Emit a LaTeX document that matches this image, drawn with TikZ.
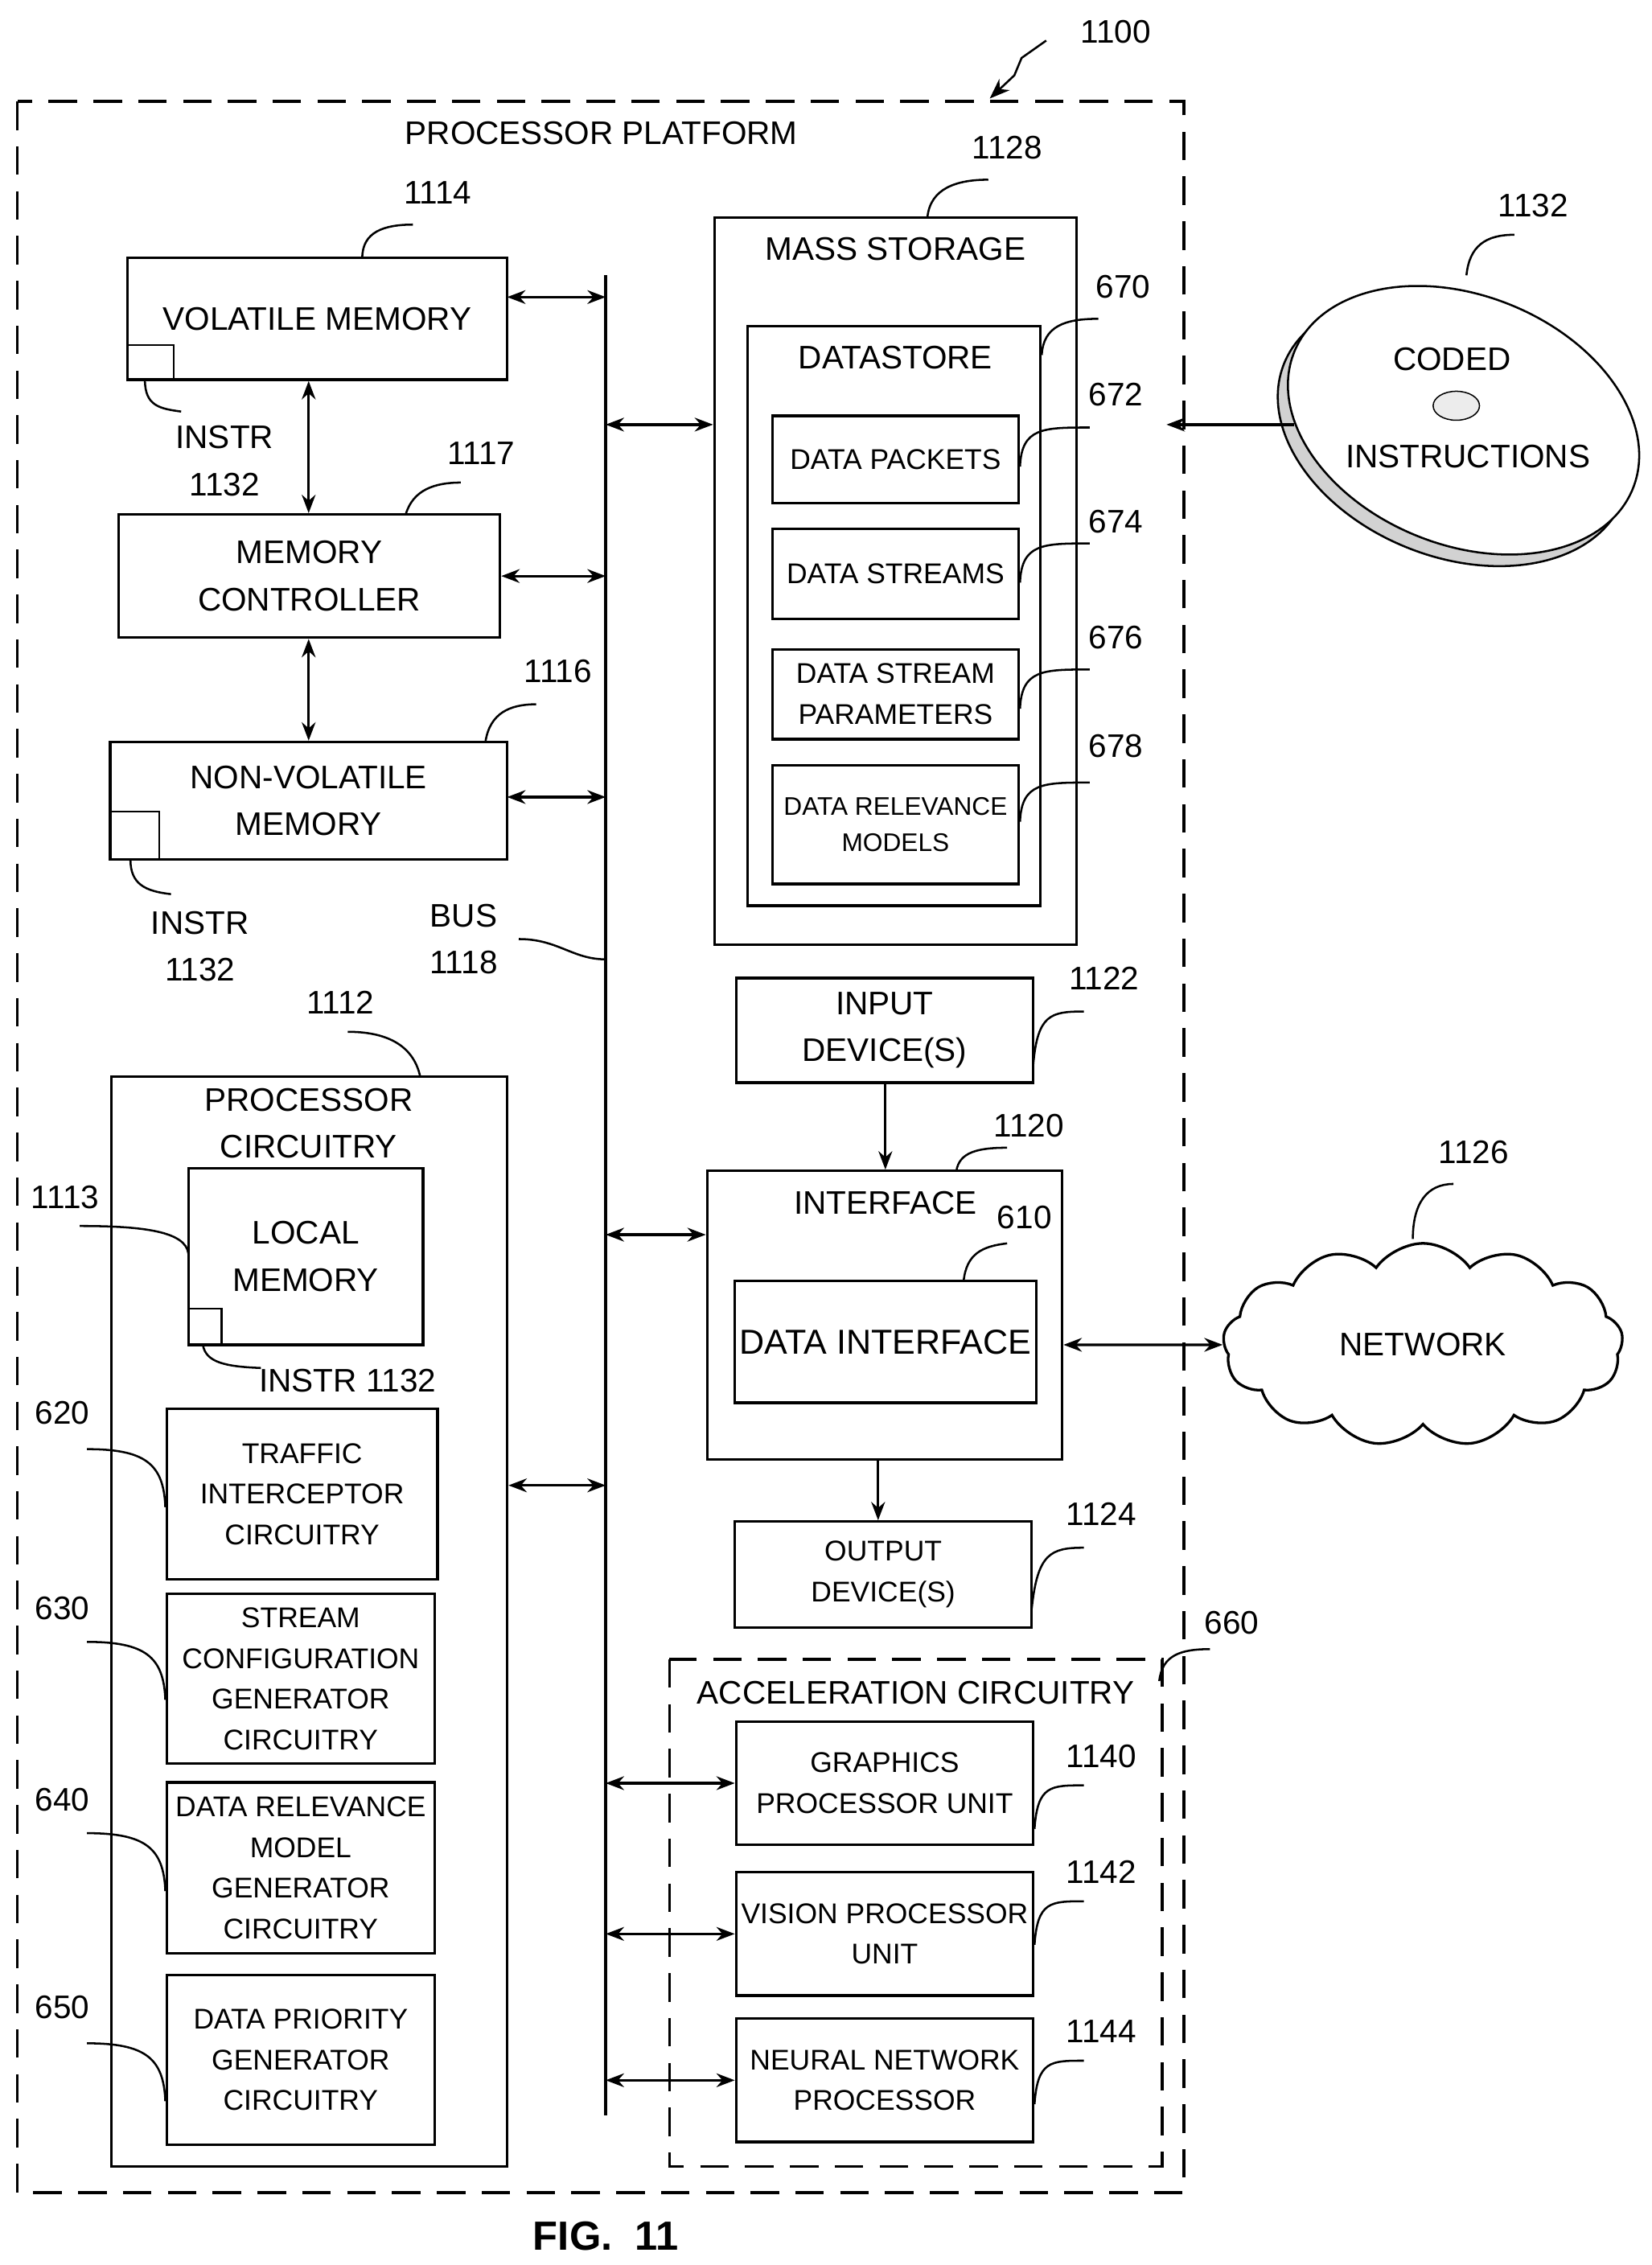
\documentclass[tikz,border=0pt]{standalone}
\usepackage{fontspec}
\setmainfont{Liberation Sans}
\usetikzlibrary{shapes.symbols,arrows.meta}
\newcommand\bx[7][]{\node[box,#1,minimum width={(#5-#3)*0.025cm},minimum height={(#6-#4)*0.025cm}] (#2) at ({(#3+#5)/2},{(#4+#6)/2}) {#7};}
\begin{document}
\begin{tikzpicture}[x=0.025cm,y=-0.025cm,
 box/.style={draw,line width=1.3pt,align=center,inner sep=0pt,font=\fontsize{14}{20}\selectfont},
 big/.style={font=\fontsize{16}{23}\selectfont},
 lab/.style={font=\fontsize{16}{23}\selectfont,align=center},
 ld/.style={line width=1pt},
 dar/.style={line width=1.3pt,{Stealth[length=9pt]}-{Stealth[length=9pt]}},
 ar/.style={line width=1.3pt,-{Stealth[length=9pt]}},
 dsh/.style={line width=1.3pt,dash pattern=on 14pt off 8pt}]
\useasboundingbox (0,0) rectangle (1140,1563);
% outer
\draw[dsh] (12,70) rectangle (817,1513);
\node[lab] (pp) at (415,92) {PROCESSOR PLATFORM};
\node[lab] (l1100) at (770,22) {1100};
\coordinate (a1) at (722,28); \coordinate (a2) at (683,68);
\draw[ld,-{Stealth[length=10pt]}] (a1) -- (705,40) -- (700,52) -- (a2);
% bus
\coordinate (bt) at (418,190); \coordinate (bb) at (418,1460);
\draw[line width=1.3pt] (bt) -- (bb);
\node[lab] (lbus) at (320,648) {BUS\\1118};
\draw[ld] (358,648) .. controls (385,648) and (395,662) .. (418,662);
% volatile
\bx[big]{vm}{88}{178}{350}{262}{VOLATILE MEMORY}
\draw[line width=1pt] (88,238) rectangle (120,262);
\node[lab] (i1) at (155,318) {INSTR\\1132};
\draw[ld] (100,262) .. controls (100,280) and (110,282) .. (125,284);
\node[lab] (l1114) at (302,133) {1114};
\draw[ld] (250,178) .. controls (250,160) and (265,155) .. (285,155);
\bx[big]{mc}{82}{355}{345}{440}{MEMORY\\CONTROLLER}
\node[lab] (l1117) at (332,313) {1117};
\draw[ld] (280,355) .. controls (285,338) and (300,333) .. (318,333);
\bx[big]{nv}{76}{512}{350}{593}{NON-VOLATILE\\MEMORY}
\draw[line width=1pt] (76,560) rectangle (110,593);
\node[lab] (i2) at (138,653) {INSTR\\1132};
\draw[ld] (90,593) .. controls (90,610) and (100,615) .. (118,617);
\node[lab] (l1116) at (385,463) {1116};
\draw[ld] (335,512) .. controls (338,492) and (352,486) .. (370,486);
\draw[dar] (vm.south -| 213,0) -- (mc.north -| 213,0);
\draw[dar] (mc.south -| 213,0) -- (nv.north -| 213,0);
\draw[dar] (350,205) -- (bt |- 0,205);
\draw[dar] (mc.east) -- (bt |- mc.east);
\draw[dar] (350,550) -- (bt |- 0,550);
% processor circuitry
\bx{pc}{77}{743}{350}{1495}{}
\node[lab] (tpc) at (213,775) {PROCESSOR\\CIRCUITRY};
\node[lab] (l1112) at (235,692) {1112};
\draw[ld] (290,743) .. controls (285,720) and (265,712) .. (240,712);
\bx[big]{lm}{130}{806}{292}{928}{LOCAL\\MEMORY}
\draw[line width=1pt] (130,903) rectangle (153,928);
\node[lab] (i3) at (240,953) {INSTR 1132};
\draw[ld] (140,928) .. controls (142,940) and (155,943) .. (180,944);
\node[lab] (l1113) at (45,826) {1113};
\draw[ld] (55,846) .. controls (100,846) and (128,850) .. (130,865);
\bx{ti}{115}{972}{302}{1090}{TRAFFIC\\INTERCEPTOR\\CIRCUITRY}
\bx{sc}{115}{1100}{300}{1217}{STREAM\\CONFIGURATION\\GENERATOR\\CIRCUITRY}
\bx{dr}{115}{1230}{300}{1348}{DATA RELEVANCE\\MODEL\\GENERATOR\\CIRCUITRY}
\bx{dp}{115}{1363}{300}{1480}{DATA PRIORITY\\GENERATOR\\CIRCUITRY}
\node[lab] (l620) at (43,975) {620};
\node[lab] (l630) at (43,1110) {630};
\node[lab] (l640) at (43,1242) {640};
\node[lab] (l650) at (43,1385) {650};
\foreach \y/\n in {1000/ti,1133/sc,1265/dr,1410/dp}{
 \draw[ld] (60,\y) .. controls (100,\y) and (113,{\y+10}) .. (\n.west |- 0,{\y+40});}
\draw[dar] (pc.east |- 0,1025) -- (bt |- 0,1025);
% mass storage
\bx{ms}{493}{150}{743}{652}{}
\node[lab] (tms) at (618,172) {MASS STORAGE};
\node[lab] (l1128) at (695,102) {1128};
\draw[ld] (640,150) .. controls (642,130) and (660,124) .. (682,124);
\bx{ds}{516}{225}{718}{625}{}
\node[lab] (tds) at (618,247) {DATASTORE};
\bx{d1}{533}{287}{703}{347}{DATA PACKETS}
\bx{d2}{533}{365}{703}{427}{DATA STREAMS}
\bx{d3}{533}{448}{703}{510}{DATA STREAM\\PARAMETERS}
\bx[font=\fontsize{12.5}{18}\selectfont]{d4}{533}{528}{703}{610}{DATA RELEVANCE\\MODELS}
\node[lab] (l670) at (775,198) {670};
\draw[ld] (ds.east |- 0,245) .. controls (720,225) and (735,220) .. (758,220);
\node[lab] (l672) at (770,272) {672};
\node[lab] (l674) at (770,360) {674};
\node[lab] (l676) at (770,440) {676};
\node[lab] (l678) at (770,515) {678};
\foreach \n/\y in {d1/295,d2/375,d3/462,d4/540}{
 \draw[ld] (\n.east |- 0,{\y+27}) .. controls (705,\y) and (720,\y) .. (752,\y);}
\draw[dar] (bt |- 0,293) -- (ms.west |- 0,293);
% coded instructions
\node[lab] (l1132) at (1058,142) {1132};
\draw[line width=1pt,fill=gray!35] (1003,298) ellipse [x radius=126,y radius=86,rotate=-22];
\draw[line width=1pt,fill=white] (1010,290) ellipse [x radius=126,y radius=86,rotate=-22];
\draw[line width=0.6pt,fill=gray!15] (1005,280) ellipse [x radius=16,y radius=10];
\node[lab] (disk1) at (1002,248) {CODED};
\node[lab] (disk2) at (1013,315) {INSTRUCTIONS};
\draw[ld] (1012,190) .. controls (1014,170) and (1025,162) .. (1045,162);
\coordinate (dk) at (893,293); \coordinate (dke) at (805,293);
\draw[ar] (dk) -- (dke);
% input
\bx[big]{in}{508}{675}{713}{747}{INPUT\\DEVICE(S)}
\node[lab] (l1122) at (762,675) {1122};
\draw[ld] (713,735) .. controls (716,700) and (725,698) .. (748,698);
\bx{if}{488}{808}{733}{1007}{}
\node[lab] (tif) at (611,830) {INTERFACE};
\node[lab] (l1120) at (710,777) {1120};
\draw[ld] (660,808) .. controls (662,795) and (675,792) .. (695,792);
\bx[font=\fontsize{17}{20}\selectfont]{di}{507}{884}{715}{968}{DATA INTERFACE}
\node[lab] (l610) at (707,840) {610};
\draw[ld] (665,884) .. controls (667,865) and (678,860) .. (695,858);
\draw[ar] (in.south -| 611,0) -- (if.north -| 611,0);
\draw[dar] (bt |- 0,852) -- (if.west |- 0,852);
\node[cloud,draw,line width=1.3pt,cloud puffs=13,cloud puff arc=110,aspect=2,minimum width=6.9cm,minimum height=3.5cm,font=\fontsize{16}{20}\selectfont] (net) at (982,928) {NETWORK};
\node[lab] (l1126) at (1017,795) {1126};
\draw[ld] (975,855) .. controls (975,830) and (985,817) .. (1003,817);
\draw[dar] (if.east |- 0,928) -- (net.west);
\bx{out}{507}{1050}{712}{1123}{OUTPUT\\DEVICE(S)}
\draw[ar] (if.south -| 606,0) -- (out.north -| 606,0);
\node[lab] (l1124) at (760,1045) {1124};
\draw[ld] (712,1110) .. controls (716,1072) and (725,1068) .. (748,1068);
% acceleration
\draw[dsh] (462,1145) rectangle (802,1495);
\node[lab] (tac) at (632,1168) {ACCELERATION CIRCUITRY};
\node[lab] (l660) at (850,1120) {660};
\draw[ld] (800,1160) .. controls (802,1142) and (815,1138) .. (835,1138);
\bx{g}{508}{1188}{713}{1273}{GRAPHICS\\PROCESSOR UNIT}
\bx{v}{508}{1292}{713}{1377}{VISION PROCESSOR\\UNIT}
\bx{nn}{508}{1393}{713}{1478}{NEURAL NETWORK\\PROCESSOR}
\node[lab] (l1140) at (760,1212) {1140};
\node[lab] (l1142) at (760,1292) {1142};
\node[lab] (l1144) at (760,1402) {1144};
\foreach \n/\y in {g/1232,v/1312,nn/1422}{
 \draw[ld] (\n.east |- 0,{\y+30}) .. controls (716,\y) and (725,\y) .. (748,\y);
 \draw[dar] (bt |- \n.west) -- (\n.west);}
\node[font=\bfseries\fontsize{20}{24}\selectfont] (fig) at (418,1543) {FIG.~~11};
\end{tikzpicture}
\end{document}
